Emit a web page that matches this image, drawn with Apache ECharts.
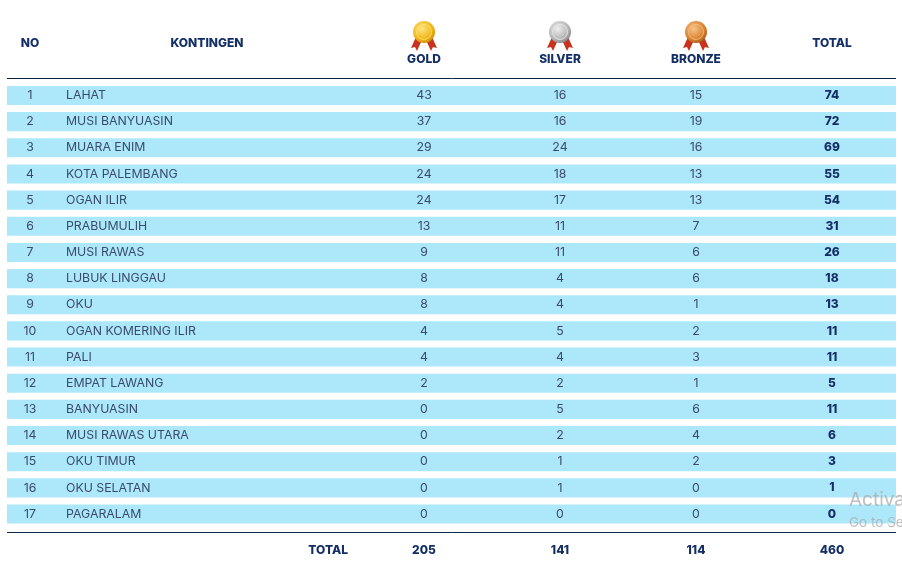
<!DOCTYPE html>
<html><head><meta charset="utf-8">
<script src="https://cdn.jsdelivr.net/npm/echarts@6/dist/echarts.min.js"></script>
<style>html,body{margin:0;padding:0;background:#fff}#c{width:902px;height:565px}</style>
</head><body><div id="c"></div>
<script>
const numbers = [1,2,3,4,5,6,7,8,9,10,11,12,13,14,15,16,17];
const contingents = ['LAHAT','MUSI BANYUASIN','MUARA ENIM','KOTA PALEMBANG','OGAN ILIR','PRABUMULIH','MUSI RAWAS','LUBUK LINGGAU','OKU','OGAN KOMERING ILIR','PALI','EMPAT LAWANG','BANYUASIN','MUSI RAWAS UTARA','OKU TIMUR','OKU SELATAN','PAGARALAM'];
const gold   = [43,37,29,24,24,13,9,8,8,4,4,2,0,0,0,0,0];
const silver = [16,16,24,18,17,11,11,4,4,5,4,2,5,2,1,1,0];
const bronze = [15,19,16,13,13,7,6,6,1,2,3,1,6,4,2,0,0];
const totals = [74,72,69,55,54,31,26,18,13,11,11,5,11,6,3,1,0];
const headers = ['NO','KONTINGEN','GOLD','SILVER','BRONZE','TOTAL'];
const totalLabel = 'TOTAL';

const sum = a => a.reduce((s,v)=>s+v,0);
const FONT = 'Inter, "Noto Sans", sans-serif';
const NAVY = '#142f66';
const ROWTXT = '#3a4a6c';
const BAND = '#ace8fa';
const COL = {no:30, name:66, gold:424, silver:560, bronze:696, total:832};

const rows = numbers.map((n,i)=>[i, n, contingents[i], gold[i], silver[i], bronze[i], totals[i]]);

function txt(x,y,t,opt){
  return Object.assign({type:'text', x:x, y:y, style:Object.assign({text:String(t), fill:ROWTXT, font:'400 12.3px '+FONT, textAlign:'center', textVerticalAlign:'middle'}, opt||{})});
}

function medal(cx, cy, c1, c2, c3){
  return {type:'group', children:[
    {type:'polygon', shape:{points:[[cx-8,cy+5],[cx-2,cy+8],[cx-7,cy+19],[cx-9,cy+15],[cx-13,cy+16]]}, style:{fill:'#c8321e'}},
    {type:'polygon', shape:{points:[[cx+8,cy+5],[cx+2,cy+8],[cx+7,cy+19],[cx+9,cy+15],[cx+13,cy+16]]}, style:{fill:'#c8321e'}},
    {type:'circle', shape:{cx:cx, cy:cy, r:11}, style:{fill:{type:'radial',x:0.4,y:0.35,r:0.7,colorStops:[{offset:0,color:c1},{offset:0.7,color:c2},{offset:1,color:c3}]}}},
    {type:'circle', shape:{cx:cx, cy:cy, r:7.5}, style:{fill:'none', stroke:c1, lineWidth:1, opacity:0.7}}
  ]};
}

const chart = echarts.init(document.getElementById('c'), null, {renderer:'canvas'});
const hdrFont = '800 12px '+FONT;
const wm1 = txt(849, 500, 'Activate Windows', {fill:'rgba(170,170,170,0.75)', font:'400 19px '+FONT, textAlign:'left'});
wm1.z = 100;
const wm2 = txt(849, 523, 'Go to Settings to activate Windows.', {fill:'rgba(170,170,170,0.75)', font:'400 13.5px '+FONT, textAlign:'left'});
wm2.z = 100;
const g = [
  txt(COL.no, 43, headers[0], {fill:NAVY, font:hdrFont}),
  txt(207, 43, headers[1], {fill:NAVY, font:hdrFont}),
  txt(COL.gold, 59, headers[2], {fill:NAVY, font:hdrFont}),
  txt(COL.silver, 59, headers[3], {fill:NAVY, font:hdrFont}),
  txt(COL.bronze, 59, headers[4], {fill:NAVY, font:hdrFont}),
  txt(COL.total, 43, headers[5], {fill:NAVY, font:hdrFont}),
  medal(COL.gold, 32, '#ffe680', '#f0b515', '#c98a0a'),
  medal(COL.silver, 32, '#eeeeee', '#b4b4b4', '#7d7d7d'),
  medal(COL.bronze, 32, '#f7c48a', '#d9822f', '#a5561a'),
  {type:'line', shape:{x1:7,y1:78.5,x2:896,y2:78.5}, style:{stroke:'#0c2446', lineWidth:1}},
  {type:'line', shape:{x1:7,y1:532.5,x2:896,y2:532.5}, style:{stroke:'#0c2446', lineWidth:1}},
  txt(348, 550, totalLabel, {fill:NAVY, font:hdrFont, textAlign:'right'}),
  txt(COL.gold, 550, sum(gold), {fill:NAVY, font:hdrFont}),
  txt(COL.silver, 550, sum(silver), {fill:NAVY, font:hdrFont}),
  txt(COL.bronze, 550, sum(bronze), {fill:NAVY, font:hdrFont}),
  txt(COL.total, 550, sum(totals), {fill:NAVY, font:hdrFont}),
  wm1, wm2
];

chart.setOption({
  animation:false,
  backgroundColor:'#ffffff',
  grid:{left:7, right:6, top:82.4, bottom:37.9},
  xAxis:{type:'value', min:0, max:1, show:false},
  yAxis:{type:'category', data:numbers.map(String), inverse:true, show:false},
  series:[{
    type:'custom',
    z:1,
    data:rows,
    encode:{x:-1, y:0},
    renderItem:function(params, api){
      const idx = api.value(0);
      const p = api.coord([0, idx]);
      const cs = params.coordSys;
      const h = api.size([0,1])[1]*0.73;
      const y = p[1];
      return {type:'group', children:[
        {type:'rect', shape:{x:cs.x, y:y-h/2, width:cs.width, height:h}, style:{fill:BAND}},
        txt(COL.no, y, api.value(1)),
        txt(COL.name, y, contingents[idx], {textAlign:'left'}),
        txt(COL.gold, y, api.value(3)),
        txt(COL.silver, y, api.value(4)),
        txt(COL.bronze, y, api.value(5)),
        txt(COL.total, y, api.value(6), {fill:NAVY, font:'800 12px '+FONT})
      ]};
    }
  }],
  graphic:{elements:g.map(e=>Object.assign({z:100}, e))}
});
</script></body></html>
